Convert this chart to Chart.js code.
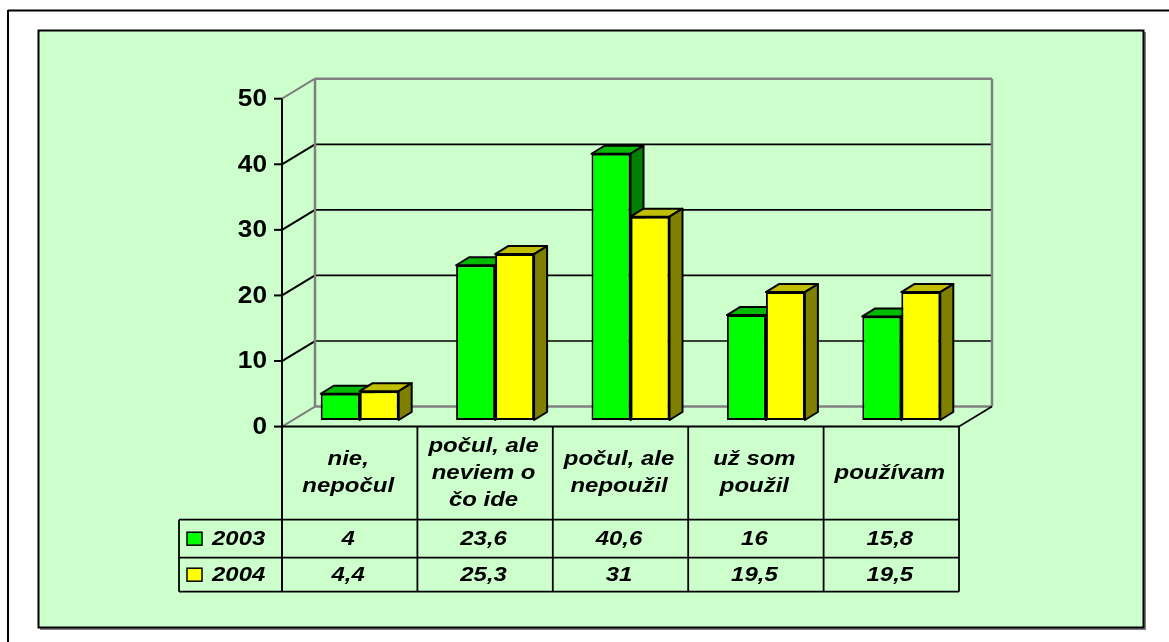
<!DOCTYPE html>
<html>
<head>
<meta charset="utf-8">
<title>Chart</title>
<script src="https://cdn.jsdelivr.net/npm/chart.js@4"></script>
<style>
    html, body { margin: 0; padding: 0; background: #fff; overflow: hidden; }
    #wrap { position: relative; width: 1169px; height: 642px; }
</style>
</head>
<body>
<div id="wrap"><canvas id="chart" width="1169" height="642"></canvas></div>
<script>
const categories = [['nie,', 'nepočul'], ['počul, ale', 'neviem o', 'čo ide'], ['počul, ale', 'nepoužil'], ['už som', 'použil'], ['používam']];
const values2003 = [4, 23.6, 40.6, 16, 15.8];
const values2004 = [4.4, 25.3, 31, 19.5, 19.5];
const yTicks = [0, 10, 20, 30, 40, 50];

const PANEL = '#CCFFCC';
const GRAY = '#808080';
const seriesStyle = [
    { name: '2003', front: '#00FF00', top: '#00BB00', side: '#008000' },
    { name: '2004', front: '#FFFF00', top: '#BFBF00', side: '#808000' }
];

// the "3D" offsets of the old Excel chart
const wallDx = 33, wallDy = -20;
const barDx = 10, barDy = -6.6;
const depthDx = 13, depthDy = -8;

const rowY = [519.7, 557.7, 591.7];
const legendLeft = 179;

function line(ctx, x1, y1, x2, y2, color, width) {
    ctx.strokeStyle = color;
    ctx.lineWidth = width;
    ctx.beginPath();
    ctx.moveTo(x1, y1);
    ctx.lineTo(x2, y2);
    ctx.stroke();
}

// source chart text is a bit stretched sideways
function stretched(ctx, text, x, y, font, align) {
    ctx.save();
    ctx.font = font;
    ctx.fillStyle = '#000';
    ctx.textAlign = align;
    ctx.textBaseline = 'middle';
    ctx.translate(x, y);
    ctx.scale(1.14, 1);
    ctx.fillText(text, 0, 0);
    ctx.restore();
}

function fmt(v) {
    return String(v).replace('.', ',');
}

const backdrop = {
    id: 'backdrop',
    beforeDraw(chart) {
        const ctx = chart.ctx;
        ctx.save();
        ctx.fillStyle = '#fff';
        ctx.fillRect(0, 0, 1169, 642);
        line(ctx, 8, 10.5, 1169, 10.5, '#000', 2);
        line(ctx, 8, 10, 8, 642, '#000', 2);
        ctx.fillStyle = GRAY;
        ctx.fillRect(40, 32, 1106, 598);
        ctx.fillStyle = PANEL;
        ctx.fillRect(38.5, 30.5, 1105, 597);
        ctx.strokeStyle = '#000';
        ctx.lineWidth = 2;
        ctx.strokeRect(38.5, 30.5, 1105, 597);
        ctx.restore();
    },
    beforeDatasetsDraw(chart) {
        const ctx = chart.ctx;
        const { left, right } = chart.chartArea;
        const y = chart.scales.y;
        ctx.save();
        const yTop = y.getPixelForValue(50), yZero = y.getPixelForValue(0);
        // back wall + side wall lines
        yTicks.forEach(v => {
            const py = y.getPixelForValue(v);
            const c = (v === 0 || v === 50) ? GRAY : '#000';
            line(ctx, left, py, left + wallDx, py + wallDy, c, 2);
            line(ctx, left + wallDx, py + wallDy, right + wallDx, py + wallDy, c, (v === 0 || v === 50) ? 2.5 : 1.7);
            line(ctx, left - 8, py, left, py, '#000', 2);
            stretched(ctx, String(v), left - 15, py + 1, 'bold 23px "Liberation Sans"', 'right');
        });
        line(ctx, left + wallDx, yTop + wallDy, left + wallDx, yZero + wallDy, GRAY, 2.5);
        line(ctx, right + wallDx, yTop + wallDy, right + wallDx, yZero + wallDy, GRAY, 2.5);
        line(ctx, right, yZero, right + wallDx, yZero + wallDy, '#000', 1.7);
        line(ctx, left, yTop, left, yZero, '#000', 2);
        ctx.restore();
    },
    // bars are painted below, green first, so yellow can cover its side
    beforeDatasetDraw() {
        return false;
    },
    afterDatasetsDraw(chart) {
        const ctx = chart.ctx;
        const x = chart.scales.x;
        const { left, right, bottom } = chart.chartArea;
        const catFont = 'italic bold 21px "Liberation Sans"';
        const cellW = (right - left) / categories.length;

        seriesStyle.forEach((st, di) => {
            ctx.save();
            ctx.translate(barDx, barDy);
            ctx.lineWidth = 2;
            ctx.strokeStyle = '#000';
            ctx.lineJoin = 'round';
            chart.getDatasetMeta(di).data.forEach(bar => {
                const x1 = bar.x - bar.width / 2, x2 = bar.x + bar.width / 2;
                const t = bar.y, b = bar.base;
                ctx.fillStyle = st.top;
                ctx.beginPath();
                ctx.moveTo(x1, t);
                ctx.lineTo(x1 + depthDx, t + depthDy);
                ctx.lineTo(x2 + depthDx, t + depthDy);
                ctx.lineTo(x2, t);
                ctx.closePath();
                ctx.fill();
                ctx.stroke();
                ctx.fillStyle = st.side;
                ctx.beginPath();
                ctx.moveTo(x2, t);
                ctx.lineTo(x2 + depthDx, t + depthDy);
                ctx.lineTo(x2 + depthDx, b + depthDy);
                ctx.lineTo(x2, b);
                ctx.closePath();
                ctx.fill();
                ctx.stroke();
                bar.draw(ctx);
            });
            ctx.restore();
        });

        ctx.save();
        // data table under the plot
        line(ctx, left, bottom, right, bottom, '#000', 2);
        rowY.forEach(ry => {
            line(ctx, legendLeft, ry, right, ry, '#000', 1.8);
        });
        line(ctx, legendLeft, rowY[0], legendLeft, rowY[2], '#000', 1.8);
        for (let i = 0; i <= categories.length; i++) {
            line(ctx, left + i * cellW, bottom, left + i * cellW, rowY[2], '#000', i === 0 ? 2 : 1.8);
        }
        categories.forEach((lines, i) => {
            const cx = x.getPixelForValue(i) - 1.5;
            const mid = (bottom + rowY[0]) / 2;
            lines.forEach((txt, k) => {
                stretched(ctx, txt, cx, mid + (k - (lines.length - 1) / 2) * 27, catFont, 'center');
            });
            stretched(ctx, fmt(values2003[i]), cx, (rowY[0] + rowY[1]) / 2 + 0.5, catFont, 'center');
            stretched(ctx, fmt(values2004[i]), cx, (rowY[1] + rowY[2]) / 2 + 0.5, catFont, 'center');
        });
        seriesStyle.forEach((st, i) => {
            const mid = (rowY[i] + rowY[i + 1]) / 2;
            ctx.fillStyle = st.front;
            ctx.fillRect(187, mid - 6.5, 15, 13);
            ctx.strokeStyle = '#000';
            ctx.lineWidth = 1.5;
            ctx.strokeRect(187, mid - 6.5, 15, 13);
            stretched(ctx, st.name, 212, mid + 0.5, catFont, 'left');
        });
        ctx.restore();
    }
};

function makeChart() {
    const data = {
        labels: categories.map(c => c.join(' ')),
        datasets: [
            { label: '2003', data: values2003, backgroundColor: seriesStyle[0].front },
            { label: '2004', data: values2004, backgroundColor: seriesStyle[1].front }
        ]
    };
    data.datasets.forEach(d => {
        d.borderColor = '#000';
        d.borderWidth = 2;
        d.borderSkipped = false;
        d.categoryPercentage = 0.576;
        d.barPercentage = 1;
    });

    return new Chart(document.getElementById('chart'), {
        type: 'bar',
        data: data,
        options: {
            responsive: false,
            animation: false,
            layout: { padding: { left: 282, right: 210, top: 98.7, bottom: 215.4 } },
            plugins: { legend: { display: false }, tooltip: { enabled: false } },
            scales: {
                x: { display: false },
                y: { display: false, min: 0, max: 50, ticks: { stepSize: 10 } }
            }
        },
        plugins: [backdrop]
    });
}

makeChart();
</script>
</body>
</html>
